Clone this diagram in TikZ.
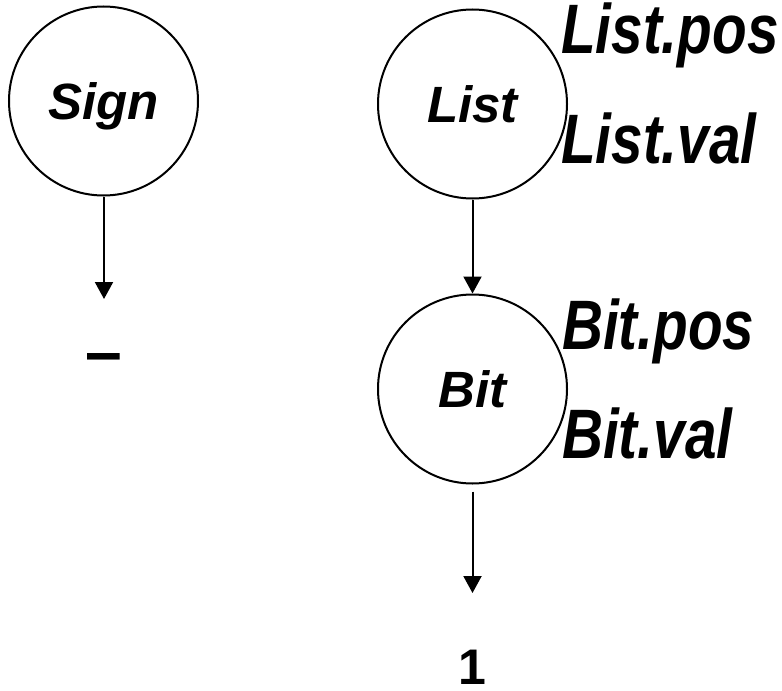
\documentclass[tikz,border=0pt]{standalone}
\usepackage{fontspec}
\setmainfont{Liberation Sans}
\usetikzlibrary{arrows.meta}

\tikzset{
  nt/.style={circle, draw, line width=2bp, minimum size=189bp, inner sep=0pt,
             text height=36.5bp, text depth=0pt,
             font=\fontsize{51bp}{51bp}\selectfont\bfseries\itshape},
  attr/.style={anchor=base west, inner sep=0pt, xscale=0.81,
               font=\fontsize{70bp}{70bp}\selectfont\bfseries\itshape},
  leaf/.style={anchor=base, inner sep=0pt},
  edge/.style={line width=2bp, -{Triangle[width=18bp,length=17bp]}}
}

\begin{document}
\begin{tikzpicture}[x=1bp, y=-1bp]
  \useasboundingbox (0,0) rectangle (782,691);

  % nonterminal nodes
  \node[nt] (sign) at (103.5,101) {Sign};
  \node[nt] (list) at (472.5,104) {List};
  \node[nt] (bit)  at (472.5,389) {Bit};

  % attribute labels
  \node[attr] (listpos) at (561,54)  {List.pos};
  \node[attr] (listval) at (561,163) {List.val};
  \node[attr] (bitpos)  at (562,349) {Bit.pos};
  \node[attr] (bitval)  at (562,458) {Bit.val};

  % leaves
  \node[leaf, font=\fontsize{66bp}{66bp}\selectfont\bfseries] (minus) at (104,374) {–};
  \node[leaf, font=\fontsize{50bp}{50bp}\selectfont\bfseries] (one) at (472,684.5) {1};

  % arrow end points
  \coordinate (signend) at (104,299);
  \coordinate (bitend)  at (472.5,593);

  % edges
  \draw[edge] (sign.south -| signend) -- (signend);
  \draw[edge] (list.south) -- (bit.north);
  \draw[edge, shorten <=7bp] (bit.south) -- (bitend);
\end{tikzpicture}
\end{document}
